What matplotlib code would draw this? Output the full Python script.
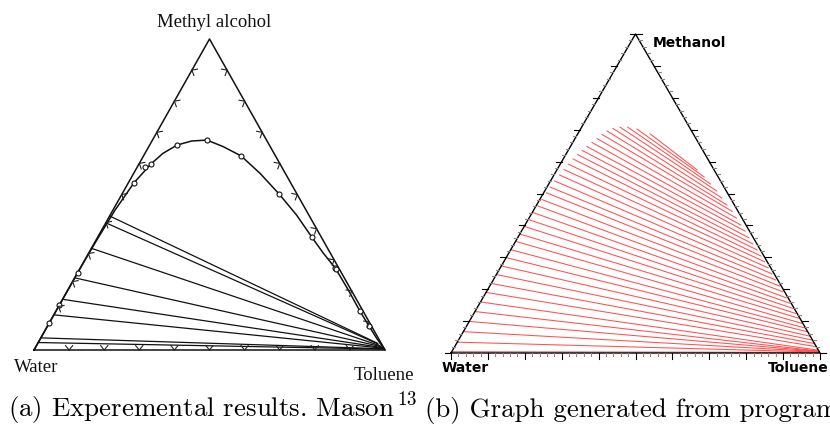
import numpy as np
import matplotlib
matplotlib.use("Agg")
import matplotlib.pyplot as plt

plt.rcParams['mathtext.fontset'] = 'cm'

H = np.sqrt(3) / 2

# ---- (a) Mason, experimental data (methanol fraction, toluene fraction) ----
mason_curve_m = [0.000, 0.087, 0.145, 0.248, 0.350, 0.450, 0.537, 0.598, 0.632, 0.659,
                 0.672, 0.675, 0.654, 0.624, 0.568, 0.502, 0.434, 0.363, 0.311, 0.264,
                 0.193, 0.125, 0.077, 0.038, 0.000]
mason_curve_t = [0.000, 0.000, 0.000, 0.000, 0.002, 0.006, 0.016, 0.034, 0.051, 0.078,
                 0.113, 0.155, 0.212, 0.278, 0.360, 0.447, 0.531, 0.610, 0.669, 0.726,
                 0.799, 0.866, 0.916, 0.957, 1.000]

mason_pts_m = [0.659, 0.675, 0.624, 0.502, 0.363, 0.264, 0.125, 0.077, 0.598, 0.537,
               0.248, 0.145, 0.087, 0.590, 0.262]
mason_pts_t = [0.078, 0.155, 0.278, 0.447, 0.610, 0.726, 0.866, 0.916, 0.034, 0.016,
               0.000, 0.000, 0.000, 0.020, 0.730]

mason_tie_left_m = [0.431, 0.409, 0.327, 0.232, 0.163, 0.113, 0.039, 0.024]
mason_tie_right_m = [0.022, 0.019, 0.014, 0.011, 0.008, 0.006, 0.004, 0.003]
mason_tie_right_t = [0.967, 0.971, 0.978, 0.983, 0.987, 0.990, 0.993, 0.995]

mark_left_m = [0.90, 0.80, 0.70, 0.60, 0.50, 0.41, 0.31, 0.22, 0.14]
mark_right_m = [0.90, 0.80, 0.70, 0.60, 0.50, 0.39, 0.29, 0.19, 0.09]
mark_bottom_t = [0.10, 0.20, 0.30, 0.40, 0.50, 0.60, 0.70, 0.80, 0.90]

# ---- (b) program output: tie line ends (methanol, toluene) ----
left_m = [0.004, 0.034, 0.067, 0.099, 0.130, 0.160, 0.190, 0.218, 0.246, 0.273,
          0.299, 0.324, 0.350, 0.373, 0.397, 0.418, 0.440, 0.461, 0.481, 0.502,
          0.520, 0.539, 0.558, 0.575, 0.592, 0.608, 0.622, 0.635, 0.647, 0.660,
          0.672, 0.685, 0.696, 0.704, 0.708, 0.708, 0.702, 0.687]
left_t = [0.000, 0.000, 0.000, 0.000, 0.000, 0.000, 0.000, 0.000, 0.000, 0.000,
          0.000, 0.000, 0.000, 0.000, 0.000, 0.002, 0.003, 0.005, 0.006, 0.008,
          0.009, 0.012, 0.015, 0.019, 0.022, 0.027, 0.032, 0.038, 0.045, 0.052,
          0.060, 0.067, 0.075, 0.087, 0.104, 0.125, 0.153, 0.196]
right_m = [0.002, 0.003, 0.004, 0.005, 0.006, 0.009, 0.020, 0.030, 0.041, 0.053,
           0.067, 0.079, 0.093, 0.109, 0.124, 0.140, 0.156, 0.173, 0.192, 0.210,
           0.229, 0.248, 0.267, 0.286, 0.304, 0.323, 0.342, 0.361, 0.382, 0.401,
           0.423, 0.444, 0.464, 0.486, 0.508, 0.530, 0.552, 0.574]
right_t = [0.998, 0.997, 0.996, 0.995, 0.993, 0.990, 0.979, 0.968, 0.957, 0.945,
           0.931, 0.918, 0.904, 0.888, 0.872, 0.856, 0.840, 0.822, 0.803, 0.785,
           0.765, 0.746, 0.726, 0.707, 0.688, 0.668, 0.647, 0.627, 0.606, 0.585,
           0.562, 0.540, 0.516, 0.491, 0.466, 0.438, 0.410, 0.380]


def tern(m, t):
    """methanol / toluene fractions -> cartesian (water at origin)"""
    m = np.asarray(m, dtype=float)
    t = np.asarray(t, dtype=float)
    return t + m / 2, m * H


def chevron(ax, x, y, nx, ny, size=0.016, ang=40):
    a = np.radians(ang)
    for s in (-1, 1):
        c, sn = np.cos(s * a), np.sin(s * a)
        dx = nx * c - ny * sn
        dy = nx * sn + ny * c
        ax.plot([x, x + size * dx], [y, y + size * dy], color="#222222", lw=0.8)


def draw_mason(ax):
    ax.plot([0, 1, 0.5, 0], [0, 0, H, 0], color="#111111", lw=1.1)
    x, y = tern(mason_curve_m, mason_curve_t)
    ax.plot(x, y, color="#111111", lw=1.1)
    x, y = tern(mason_pts_m, mason_pts_t)
    ax.plot(x, y, "o", ms=3.6, mfc="white", mec="#111111", mew=0.8)
    xl, yl = tern(mason_tie_left_m, np.zeros(len(mason_tie_left_m)))
    xr, yr = tern(mason_tie_right_m, mason_tie_right_t)
    for i in range(len(xl)):
        ax.plot([xl[i], xr[i]], [yl[i], yr[i]], color="#111111", lw=0.9)
    for m in mark_left_m:
        x, y = tern(m, 0)
        chevron(ax, x, y, H, -0.5)
    for m in mark_right_m:
        x, y = tern(m, 1 - m)
        chevron(ax, x, y, -H, -0.5)
    for t in mark_bottom_t:
        chevron(ax, t, 0, 0, 1)
    serif = ["Liberation Serif", "DejaVu Serif"]
    ax.text(0.513, 0.913, "Methyl alcohol", family=serif, fontsize=13.5,
            ha="center", va="center", color="#111111")
    ax.text(0.005, -0.050, "Water", family=serif, fontsize=13.5,
            ha="center", va="center", color="#111111")
    ax.text(0.997, -0.070, "Toluene", family=serif, fontsize=13.5,
            ha="center", va="center", color="#111111")


def draw_program(ax):
    xl, yl = tern(left_m, left_t)
    xr, yr = tern(right_m, right_t)
    for i in range(len(xl)):
        ax.plot([xl[i], xr[i]], [yl[i], yr[i]], color="#ff5050", lw=0.75)
    ax.plot([0, 1, 0.5, 0], [0, 0, H, 0], color="black", lw=1.0)
    for k in range(51):
        f = k / 50
        major = k % 5 == 0
        L = (6 if major else 3) / 369
        col = "black" if major else "#8a8a8a"
        ax.plot([f, f], [0, -L], color=col, lw=0.8)
        ax.plot([f / 2, f / 2 - L], [f * H, f * H], color=col, lw=0.8)
        ax.plot([1 - f / 2, 1 - f / 2 + L], [f * H, f * H], color=col, lw=0.8)
    ax.text(0.5466, 0.8408, "Methanol", fontsize=10, fontweight="bold",
            ha="left", va="center")
    ax.text(0.038, -0.0415, "Water", fontsize=10, fontweight="bold",
            ha="center", va="center")
    ax.text(0.860, -0.0415, "Toluene", fontsize=10, fontweight="bold",
            ha="left", va="center", clip_on=False)


def main():
    fig = plt.figure(figsize=(8.3, 4.26), dpi=100)

    ax1 = fig.add_axes([0, 36 / 426, 415 / 830, 390 / 426])
    ax1.set_xlim((0 - 34) / 351, (415 - 34) / 351)
    ax1.set_ylim((350 - 390) / 311 * H, 350 / 311 * H)
    ax1.axis("off")
    draw_mason(ax1)

    ax2 = fig.add_axes([415 / 830, 36 / 426, 415 / 830, 390 / 426])
    ax2.set_xlim((415 - 451) / 369, (830 - 451) / 369)
    ax2.set_ylim((353 - 390) / 319 * H, 353 / 319 * H)
    ax2.axis("off")
    draw_program(ax2)

    cap = dict(family="cmr10", fontsize=19.4, va="baseline", ha="left")
    fig.text(8 / 830, 1 - 417 / 426, r"(a) Experemental results. Mason$^{\,13}$", **cap)
    fig.text(425 / 830, 1 - 417 / 426, "(b) Graph generated from program", **cap)

    fig.savefig("out.png", dpi=100)
    return


if __name__ == "__main__":
    main()
